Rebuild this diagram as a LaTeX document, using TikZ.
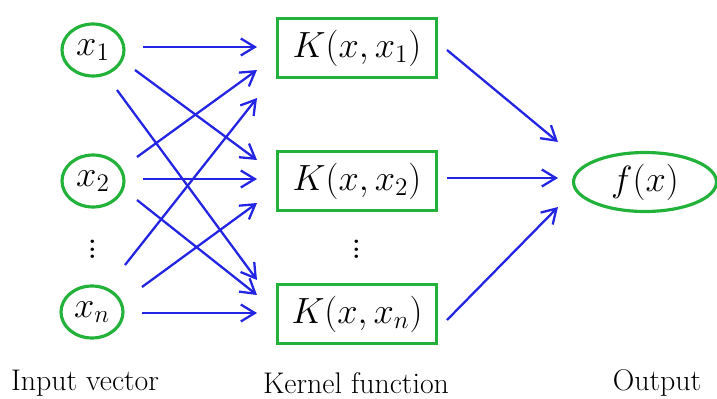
\documentclass[tikz,border=0pt]{standalone}
\usepackage{amsmath}
\usepackage{fontspec}
\usetikzlibrary{shapes.geometric,arrows.meta}
\definecolor{kgreen}{RGB}{34,178,58}
\definecolor{kblue}{RGB}{36,36,228}

\begin{document}
\begin{tikzpicture}[x={(0.02cm,0)}, y={(0,-0.02cm)},
    input/.style={ellipse, draw=kgreen, line width=1.8pt, inner sep=0pt,
      minimum width=1.24cm, minimum height=1.04cm, font=\fontsize{22}{26}\selectfont},
    kernel/.style={rectangle, draw=kgreen, line width=1.8pt, inner sep=0pt,
      minimum width=3.18cm, minimum height=1.18cm, font=\fontsize{21}{25}\selectfont},
    output/.style={ellipse, draw=kgreen, line width=1.8pt, inner sep=0pt,
      minimum width=2.86cm, minimum height=1.18cm, font=\fontsize{21}{25}\selectfont},
    dots/.style={font=\fontsize{24}{28}\selectfont},
    caption/.style={font=\rmfamily\fontsize{17}{20}\selectfont},
    link/.style={draw=kblue, line width=1.3pt, -{Straight Barb[length=2.8mm,width=3.4mm]}}]
  \useasboundingbox (0,0) rectangle (717,399);
  % Define nodes
  \node[input] (x1) at (93,50) {$x_1$};
  \node[input] (x2) at (93,181) {$x_2$};
  \node[input] (xn) at (92,312) {$x_n$};
  \node[dots] (vin) at (93,244) {$\vdots$};
  \node[kernel] (K1) at (357,48) {$K(x,x_1)$};
  \node[kernel] (K2) at (357,181) {$K(x,x_2)$};
  \node[kernel] (Kn) at (357,314) {$K(x,x_n)$};
  \node[dots] (vk) at (357,244) {$\vdots$};
  \node[output] (f) at (645,182) {$f(x)$};
  \node[caption] (lin) at (85,383) {Input vector};
  \node[caption] (lk) at (356,383) {Kernel function};
  \node[caption] (lout) at (657,383) {Output};
  % Connect the nodes
  \draw[link] ([shift={(50,-3)}]x1.center) -- ([shift={(-100,-1)}]K1.center);
  \draw[link] ([shift={(42,20)}]x1.center) -- ([shift={(-100,-21)}]K2.center);
  \draw[link] ([shift={(24,40)}]x1.center) -- ([shift={(-100,-34)}]Kn.center);
  \draw[link] ([shift={(44,-24)}]x2.center) -- ([shift={(-100,22)}]K1.center);
  \draw[link] ([shift={(50,-2)}]x2.center) -- ([shift={(-100,-2)}]K2.center);
  \draw[link] ([shift={(44,19)}]x2.center) -- ([shift={(-100,-19)}]Kn.center);
  \draw[link] ([shift={(33,-47)}]xn.center) -- ([shift={(-100,50)}]K1.center);
  \draw[link] ([shift={(50,-25)}]xn.center) -- ([shift={(-100,22)}]K2.center);
  \draw[link] ([shift={(50,1)}]xn.center) -- ([shift={(-100,-1)}]Kn.center);
  \draw[link] ([shift={(90,2)}]K1.center) -- ([shift={(-87,-40)}]f.center);
  \draw[link] ([shift={(90,-3)}]K2.center) -- ([shift={(-87,-4)}]f.center);
  \draw[link] ([shift={(90,6)}]Kn.center) -- ([shift={(-87,25)}]f.center);
\end{tikzpicture}
\end{document}
